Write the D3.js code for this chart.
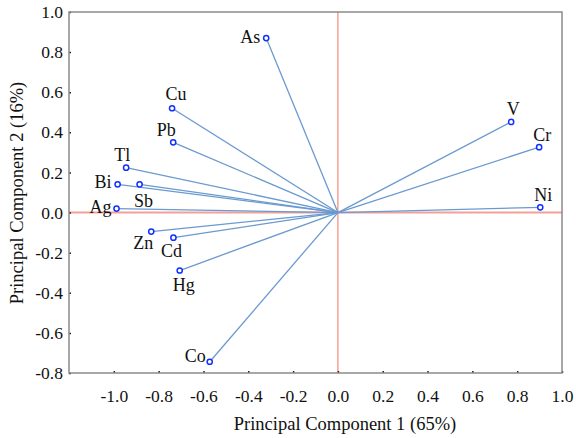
<!DOCTYPE html>
<html>
<head>
<meta charset="utf-8" />
<title>pca loadings</title>
<script src="https://cdn.jsdelivr.net/npm/d3@7"></script>
<style>
  body { margin: 0; background: #fff; }
  text { font-family: "Liberation Serif", "DejaVu Serif", serif; fill: #111; }
</style>
</head>
<body>
<svg width="576" height="438"></svg>
<script>
// loadings
var elements = ["As", "Cu", "Pb", "Tl", "Bi", "Sb", "Ag", "Zn", "Cd", "Hg", "Co", "V", "Cr", "Ni"];
var pc1 = [-0.32, -0.74, -0.735, -0.945, -0.983, -0.885, -0.988, -0.833, -0.734, -0.706, -0.572, 0.773, 0.898, 0.903];
var pc2 = [0.87, 0.52, 0.35, 0.224, 0.141, 0.141, 0.02, -0.095, -0.125, -0.289, -0.744, 0.452, 0.326, 0.026];
// label offsets (dx, dy) and anchor for each element
var labelPos = [[-6, 5, "end"], [4, -8, "middle"], [-7, -6, "middle"], [-4, -7, "middle"], [-6, 4, "end"],
                [4, 23, "middle"], [-5, 4, "end"], [-8, 17, "middle"], [-2, 19, "middle"], [4, 20, "middle"],
                [-4, 0, "end"], [2, -7, "middle"], [3, -6, "middle"], [3, -6, "middle"]];
var xTicks = [-1.0, -0.8, -0.6, -0.4, -0.2, 0.0, 0.2, 0.4, 0.6, 0.8, 1.0];
var yTicks = [-0.8, -0.6, -0.4, -0.2, 0.0, 0.2, 0.4, 0.6, 0.8, 1.0];

var svg = d3.select("svg");
var marge = {top: 12, right: 14, bottom: 65, left: 69};
var w = 576 - marge.left - marge.right;
var h = 438 - marge.top - marge.bottom;
var g = svg.append("g").attr("transform", "translate(" + marge.left + "," + marge.top + ")");

var x = d3.scaleLinear().domain([-1.2, 1.0]).range([0, w]);
var y = d3.scaleLinear().domain([-0.8, 1.0]).range([h, 0]);

// zero lines
g.append("line").attr("x1", 0).attr("x2", w).attr("y1", y(0)).attr("y2", y(0))
  .attr("stroke", "#f4a09a").attr("stroke-width", 2);
g.append("line").attr("x1", x(0)).attr("x2", x(0)).attr("y1", 0).attr("y2", h)
  .attr("stroke", "#f07060").attr("stroke-width", 1);

// axes
var xAxis = d3.axisBottom(x).tickValues(xTicks).tickSize(-2).tickPadding(17).tickFormat(d3.format(".1f"));
var yAxis = d3.axisLeft(y).tickValues(yTicks).tickSize(-2).tickPadding(6).tickFormat(d3.format(".1f"));
var gx = g.append("g").attr("transform", "translate(0," + h + ")").call(xAxis);
var gy = g.append("g").call(yAxis);
[gx, gy].forEach(function (a) {
  a.select(".domain").remove();
  a.selectAll(".tick line").attr("stroke", "#222").attr("stroke-width", 1.5);
  a.selectAll("text").style("font-size", "17.5px").attr("fill", "#111")
    .text(function (d) { return d3.format(".1f")(d).replace("−", "-"); });
});

// frame
g.append("rect").attr("width", w).attr("height", h).attr("fill", "none")
  .attr("stroke", "#8a8a8a").attr("stroke-width", 1.5);

var data = elements.map(function (e, i) { return {name: e, x: pc1[i], y: pc2[i], lp: labelPos[i]}; });

g.selectAll(".vec").data(data).enter().append("line")
  .attr("x1", x(0)).attr("y1", y(0))
  .attr("x2", function (d) { return x(d.x); })
  .attr("y2", function (d) { return y(d.y); })
  .attr("stroke", "#6a9ad0").attr("stroke-width", 1.3);

g.selectAll(".pt").data(data).enter().append("circle")
  .attr("cx", function (d) { return x(d.x); })
  .attr("cy", function (d) { return y(d.y); })
  .attr("r", 2.6).attr("fill", "#fff").attr("stroke", "#1030ff").attr("stroke-width", 1.5);

g.selectAll(".lab").data(data).enter().append("text")
  .attr("x", function (d) { return x(d.x) + d.lp[0]; })
  .attr("y", function (d) { return y(d.y) + d.lp[1]; })
  .attr("text-anchor", function (d) { return d.lp[2]; })
  .style("font-size", "18px")
  .text(function (d) { return d.name; });

// axis titles
svg.append("text").attr("x", 345).attr("y", 430)
  .attr("text-anchor", "middle").style("font-size", "18.5px")
  .text("Principal Component 1 (65%)");
svg.append("text").attr("transform", "translate(23," + 193 + ") rotate(-90)")
  .attr("text-anchor", "middle").style("font-size", "18.5px")
  .text("Principal Component 2 (16%)");
</script>
</body>
</html>
